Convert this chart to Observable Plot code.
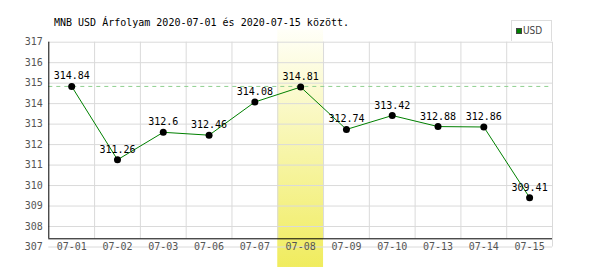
<!DOCTYPE html>
<html>
<head>
<meta charset="utf-8">
<script src="https://cdn.jsdelivr.net/npm/d3@7"></script>
<script src="https://cdn.jsdelivr.net/npm/@observablehq/plot@0.6"></script>
<style>
  html, body { margin: 0; padding: 0; background: #fff; }
  #wrap { position: relative; width: 600px; height: 270px; }
  #title { position: absolute; left: 54px; top: 17px; font: 10px "DejaVu Sans Mono", monospace; color: #000; white-space: pre; }
  #legend { position: absolute; left: 511px; top: 20px; width: 41px; height: 21px; border: 1px solid #ddd; border-bottom: none; background: #fff; box-sizing: border-box; font: 10px "DejaVu Sans Condensed", "DejaVu Sans", sans-serif; color: #444; }
  #legend .sw { position: absolute; left: 4px; top: 7px; width: 6px; height: 6px; background: #008000; border: 0.5px solid #444; box-sizing: border-box; }
  #legend .lb { position: absolute; left: 11px; top: 4px; }
</style>
</head>
<body>
<div id="wrap">
  <div id="title">MNB USD Árfolyam 2020-07-01 és 2020-07-15 között.</div>
  <div id="legend"><span class="sw"></span><span class="lb">USD</span></div>
</div>
<script>
const dates = ["07-01","07-02","07-03","07-06","07-07","07-08","07-09","07-10","07-13","07-14","07-15"];
const values = [314.84, 311.26, 312.6, 312.46, 314.08, 314.81, 312.74, 313.42, 312.88, 312.86, 309.41];
const labels = ["314.84","311.26","312.6","312.46","314.08","314.81","312.74","313.42","312.88","312.86","309.41"];
const yTicks = [307, 308, 309, 310, 311, 312, 313, 314, 315, 316, 317];
const highlightDate = "07-08";
const highlightSpan = [306.0, 317.6];
const axisBase = 307.4;
const maxValue = d3.max(values);

const data = dates.map((d, i) => ({i, date: d, value: values[i], label: labels[i]}));
const hi = dates.indexOf(highlightDate);
const n = dates.length;

const defsMark = () => {
  const svgNS = "http://www.w3.org/2000/svg";
  const defs = document.createElementNS(svgNS, "defs");
  defs.innerHTML = `<linearGradient id="hl" x1="0" y1="0" x2="0" y2="1">
    <stop offset="0%" stop-color="#fffff8"/>
    <stop offset="100%" stop-color="#f0ec5e"/>
  </linearGradient>`;
  return defs;
};

const chart = Plot.plot({
  width: 600,
  height: 270,
  marginLeft: 48.3,
  marginRight: 48,
  marginTop: 41.7,
  marginBottom: 23.5,
  style: {background: "transparent", fontFamily: "'DejaVu Sans Mono', monospace", fontSize: "10px", overflow: "visible"},
  x: {type: "linear", domain: [-0.5, n - 0.5], label: null},
  y: {domain: [307, 317], label: null},
  marks: [
    defsMark,
    Plot.rect([hi], {x1: i => i - 0.5, x2: i => i + 0.5, y1: highlightSpan[0], y2: highlightSpan[1], fill: "url(#hl)", clip: false}),
    Plot.ruleY(yTicks.slice(1), {stroke: "#dadada", strokeWidth: 1}),
    Plot.ruleY([yTicks[0]], {stroke: "#dadada", strokeWidth: 1}),
    Plot.ruleX(d3.range(0.5, n - 1, 1), {y1: axisBase, y2: 317, stroke: "#dadada"}),
    Plot.ruleX([n - 0.5], {y1: 307, y2: 317, stroke: "#dadada"}),
    Plot.ruleY([maxValue], {stroke: "#8fd08f", strokeDasharray: "4,4"}),
    Plot.ruleY([axisBase], {stroke: "#000"}),
    Plot.ruleX([-0.5], {y1: axisBase, y2: 317, stroke: "#000"}),
    Plot.line(data, {x: "i", y: "value", stroke: "#008000", strokeWidth: 1}),
    Plot.dot(data, {x: "i", y: "value", r: 3.5, fill: "#000", stroke: "none"}),
    Plot.text(data, {x: "i", y: "value", text: "label", lineAnchor: "bottom", dy: -7, fill: "#000", fontSize: 10}),
    Plot.axisY({ticks: yTicks, tickSize: 0, tickPadding: 6, tickFormat: d => String(d), fill: "#555", fontSize: 10, label: null}),
    Plot.axisX({ticks: d3.range(n), tickSize: 0, tickPadding: 0, dy: -4, tickFormat: i => dates[i], fill: "#555", fontSize: 10, label: null})
  ]
});
document.getElementById("wrap").prepend(chart);
chart.style.position = "absolute";
chart.style.left = "0";
chart.style.top = "0";
</script>
</body>
</html>
